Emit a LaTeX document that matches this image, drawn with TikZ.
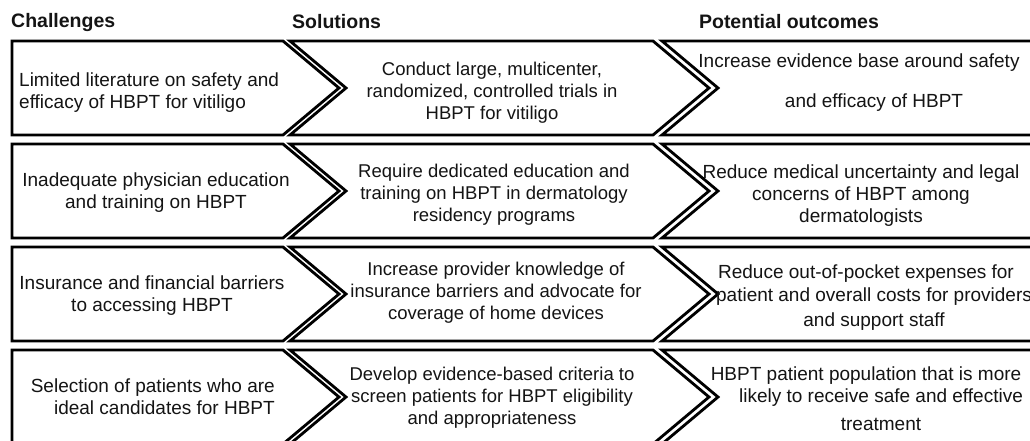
\documentclass[tikz,border=0pt]{standalone}
\usepackage{fontspec}
\setmainfont{Liberation Sans}
\begin{document}
\begin{tikzpicture}[x=1pt,y=-1pt,
  box/.style={line width=2.8pt, draw=black, fill=white, line join=miter},
  txt/.style={font=\fontsize{19}{22}\selectfont, inner sep=0pt, align=center, text=black!92},
  mid/.style={txt, font=\fontsize{18.5}{22}\selectfont},
  hdr/.style={font=\bfseries\fontsize{19.5}{22}\selectfont, inner sep=0pt, text=black!92}]
\useasboundingbox (0,0) rectangle (1030,440);
\clip (0,0) rectangle (1030,440);
\fill[white] (0,0) rectangle (1030,440);
% headers
\node[hdr, anchor=west] (hch) at (11,22) {Challenges};
\node[hdr, anchor=west] (hso) at (292,22) {Solutions};
\node[hdr] (hpo) at (789,22) {Potential outcomes};
% boxes
\foreach \t in {41,144,247,350}{
  \draw[box] (12,\t) -- (283,\t) -- (339,\t+47) -- (283,\t+94) -- (12,\t+94) -- cycle;
  \draw[box] (290,\t) -- (653,\t) -- (709,\t+47) -- (653,\t+94) -- (290,\t+94) -- (346,\t+47) -- cycle;
  \draw[box] (662,\t) -- (1045,\t) -- (1045,\t+94) -- (662,\t+94) -- (718,\t+47) -- cycle;
}
% row 1
\node[txt, align=left, anchor=west] (c1) at (19,92.5) {Limited literature on safety and\\ efficacy of HBPT for vitiligo};
\node[mid] (s1) at (492,93) {Conduct large, multicenter,\\randomized, controlled trials in\\HBPT for vitiligo};
\node[txt] (o1a) at (859,63) {Increase evidence base around safety};
\node[txt] (o1b) at (874,103) {and efficacy of HBPT};
% row 2
\node[txt] (c2) at (156,192.5) {Inadequate physician education\\and training on HBPT};
\node[mid] (s2) at (494,195) {Require dedicated education and\\training on HBPT in dermatology\\residency programs};
\node[txt] (o2) at (861,195.5) {Reduce medical uncertainty and legal\\concerns of HBPT among\\dermatologists};
% row 3
\node[txt] (c3) at (152,296) {Insurance and financial barriers\\to accessing HBPT};
\node[mid] (s3) at (496,293) {Increase provider knowledge of\\insurance barriers and advocate for\\coverage of home devices};
\node[txt] (o3a) at (866,274) {Reduce out-of-pocket expenses for};
\node[txt] (o3b) at (874,297) {patient and overall costs for providers};
\node[txt] (o3c) at (874,322) {and support staff};
% row 4
\node[txt, align=right, anchor=east] (c4) at (275,397) {Selection of patients who are\\ideal candidates for HBPT};
\node[mid] (s4) at (492,398) {Develop evidence-based criteria to\\screen patients for HBPT eligibility\\and appropriateness};
\node[txt] (o4a) at (866,376) {HBPT patient population that is more};
\node[txt] (o4b) at (881,398) {likely to receive safe and effective};
\node[txt] (o4c) at (881,424) {treatment};
\end{tikzpicture}
\end{document}
